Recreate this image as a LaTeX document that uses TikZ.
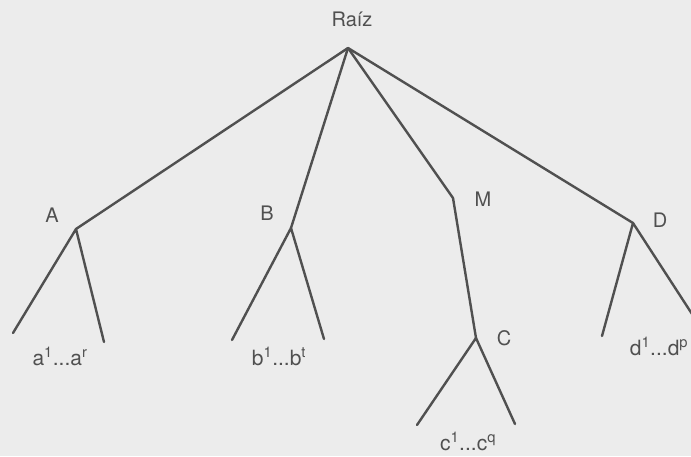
\documentclass[tikz,border=0pt]{standalone}
\usepackage{fontspec}
\setmainfont{TeX Gyre Heros}
\definecolor{inkgray}{RGB}{80,80,80}
\definecolor{paper}{RGB}{236,236,236}
\usepackage{tikz}
\usetikzlibrary{positioning}
\tikzset{
  branch/.style={draw=inkgray,line width=2.4pt,line cap=round,line join=round},
  lbl/.style={font=\fontsize{20}{22}\selectfont,text=inkgray,inner sep=0pt},
  leaflbl/.style={lbl,anchor=base,font=\fontsize{21}{23}\selectfont},
}
\begin{document}
\begin{tikzpicture}[x=1pt,y=1pt]
  \fill[paper] (0,0) rectangle (691,456);
  \useasboundingbox (0,0) rectangle (691,456);
  \clip (0,0) rectangle (691,456);
  % junctions and leaf ends
  \coordinate (root) at (348,408);
  \coordinate (A) at (76,227);
  \coordinate (a1) at (13,123);
  \coordinate (ar) at (104,114);
  \coordinate (B) at (291,228);
  \coordinate (b1) at (232,116);
  \coordinate (bt) at (324,117);
  \coordinate (M) at (453,258);
  \coordinate (C) at (476,118);
  \coordinate (c1) at (417,31);
  \coordinate (cq) at (515,32);
  \coordinate (D) at (633,233);
  \coordinate (d1) at (602,120);
  \coordinate (dp) at (705,122);
  % branches
  \draw[branch] (root) -- (A);
  \draw[branch] (root) -- (B);
  \draw[branch] (root) -- (M) -- (C);
  \draw[branch] (root) -- (D);
  \draw[branch] (a1) -- (A) -- (ar);
  \draw[branch] (b1) -- (B) -- (bt);
  \draw[branch] (c1) -- (C) -- (cq);
  \draw[branch] (d1) -- (D) -- (dp);
  % labels
  \node[lbl,anchor=base] (raiz) at (352,429) {Raíz};
  \node[lbl] (lA) at (52,241) {A};
  \node[lbl] (lB) at (267,243) {B};
  \node[lbl] (lM) at (483,257) {M};
  \node[lbl] (lC) at (504,118) {C};
  \node[lbl] (lD) at (660,236) {D};
  \node[leaflbl] (la) at (60,91) {a\textsuperscript{1}...a\textsuperscript{r}};
  \node[leaflbl] (lb) at (279,91) {b\textsuperscript{1}...b\textsuperscript{t}};
  \node[leaflbl] (lc) at (468,6) {c\textsuperscript{1}...c\textsuperscript{q}};
  \node[leaflbl] (ld) at (659,101) {d\textsuperscript{1}...d\textsuperscript{p}};
\end{tikzpicture}
\end{document}
